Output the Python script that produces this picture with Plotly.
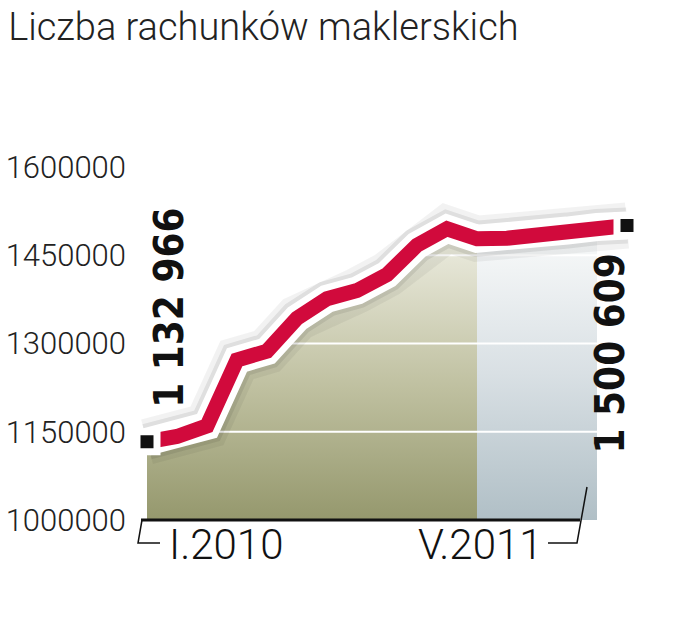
import plotly.graph_objects as go

# --- data -------------------------------------------------------------
months = ["I.2010", "II.2010", "III.2010", "IV.2010", "V.2010", "VI.2010",
          "VII.2010", "VIII.2010", "IX.2010", "X.2010", "XI.2010", "XII.2010",
          "I.2011", "II.2011", "III.2011", "IV.2011", "V.2011"]
accounts = [1132966, 1142000, 1160000, 1272000, 1287000, 1343000, 1376000,
            1390000, 1417000, 1467000, 1495000, 1478000, 1479000, 1485000,
            1492000, 1498000, 1500609]
y_ticks = [1000000, 1150000, 1300000, 1450000, 1600000]

title_text = "Liczba rachunków maklerskich"
first_label = months[0]
last_label = months[-1]

RED = "#d10a3c"
W, H = 679, 640
ML, MR, MT, MB = 130, 20, 167, 120
PW, PH = W - ML - MR, H - MT - MB
LIGHT = "Roboto"


def px_x(p):
    # pixel -> paper x
    return (p - ML) / PW


def px_y(p):
    # pixel -> paper y
    return (H - MB - p) / PH


def spaced(v):
    return f"{v:,}".replace(",", " ")


fig = go.Figure()

# area under the line: olive part up to XII.2010, grey part after
split = 11
end_area = 15
fig.add_trace(go.Scatter(
    x=months[:split + 1], y=accounts[:split + 1], mode="lines",
    line=dict(width=0), fill="tozeroy",
    fillgradient=dict(type="vertical", start=1000000, stop=1500000,
                      colorscale=[[0, "#95986d"], [0.45, "#bfc0a0"], [1, "#efefe4"]]),
    hoverinfo="skip", showlegend=False))
fig.add_trace(go.Scatter(
    x=months[split:end_area + 1], y=accounts[split:end_area + 1], mode="lines",
    line=dict(width=0), fill="tozeroy",
    fillgradient=dict(type="vertical", start=1000000, stop=1500000,
                      colorscale=[[0, "#b0bfc6"], [0.5, "#d9e0e4"], [1, "#fafbfb"]]),
    hoverinfo="skip", showlegend=False))

# white gridlines on top of the area
for t in y_ticks[1:-1]:
    fig.add_trace(go.Scatter(x=[months[0], months[-1]], y=[t, t], mode="lines",
                             line=dict(color="white", width=2),
                             hoverinfo="skip", showlegend=False))

# soft shadow, white outline, red line
fig.add_trace(go.Scatter(x=months, y=accounts, mode="lines",
                         line=dict(color="rgba(0,0,0,0.05)", width=46),
                         hoverinfo="skip", showlegend=False))
fig.add_trace(go.Scatter(x=months, y=accounts, mode="lines",
                         line=dict(color="rgba(0,0,0,0.08)", width=36),
                         hoverinfo="skip", showlegend=False))
fig.add_trace(go.Scatter(x=months, y=accounts, mode="lines",
                         line=dict(color="white", width=28),
                         hoverinfo="skip", showlegend=False))
fig.add_trace(go.Scatter(x=months, y=accounts, mode="lines",
                         line=dict(color=RED, width=15),
                         hoverinfo="skip", showlegend=False))
fig.add_trace(go.Scatter(x=[months[0], months[-1]], y=[accounts[0], accounts[-1]],
                         mode="markers",
                         marker=dict(symbol="square", size=20, color="#111",
                                     line=dict(color="white", width=7)),
                         hoverinfo="skip", showlegend=False))

# rotated value labels
lab_font = dict(family="DejaVu Sans Condensed, DejaVu Sans", size=40, color="#111", weight="bold")
fig.add_annotation(x=months[0], y=accounts[0], text=spaced(accounts[0]),
                   textangle=-90, showarrow=False, font=lab_font,
                   xanchor="center", yanchor="bottom", xshift=22, yshift=32)
fig.add_annotation(x=months[-1], y=accounts[-1], text=spaced(accounts[-1]),
                   textangle=-90, showarrow=False, font=lab_font,
                   xanchor="center", yanchor="top", xshift=-17, yshift=-26)

# x labels with brackets
x_font = dict(family=LIGHT, size=42, color="#111", weight=300)
fig.add_annotation(x=first_label, y=0, yref="paper", text=first_label,
                   showarrow=False, font=x_font, xanchor="left", yanchor="middle",
                   xshift=20, yshift=-24)
fig.add_annotation(x=last_label, y=0, yref="paper", text=last_label,
                   showarrow=False, font=x_font, xanchor="right", yanchor="middle",
                   xshift=-82, yshift=-24)

line_k = dict(color="#111", width=1.5)
fig.add_shape(type="path", xref="paper", yref="paper", line=line_k,
              path=f"M{px_x(142)},{px_y(520)} L{px_x(138)},{px_y(543)} L{px_x(160)},{px_y(543)}")
fig.add_shape(type="path", xref="paper", yref="paper", line=line_k,
              path=f"M{px_x(548)},{px_y(543)} L{px_x(577)},{px_y(543)} L{px_x(587)},{px_y(487)}")
fig.add_shape(type="line", xref="paper", yref="paper",
              x0=px_x(141), x1=px_x(580), y0=px_y(520), y1=px_y(520),
              line=dict(color="#111", width=3))

fig.update_layout(
    width=W, height=H,
    margin=dict(l=ML, r=MR, t=MT, b=MB),
    paper_bgcolor="white", plot_bgcolor="white",
    title=dict(text=title_text, x=0.012, xanchor="left", y=1 - 27 / H, yanchor="middle",
               font=dict(family=LIGHT, size=38, color="#222", weight=300)),
    xaxis=dict(type="category", range=[-17 / 30, 16 + (W - MR - 627) / 30],
               showgrid=False, showticklabels=False, zeroline=False, showline=False),
    yaxis=dict(range=[1000000, 1600000], tickvals=y_ticks, automargin=False,
               ticktext=[str(t) for t in y_ticks], showgrid=False, zeroline=False,
               showline=False, ticks="", ticklabelstandoff=3,
               tickfont=dict(family=LIGHT, size=31, color="#222", weight=300)),
)

fig.write_html("out.html", config={"displayModeBar": False},
               post_script="document.body.style.margin='0';")
